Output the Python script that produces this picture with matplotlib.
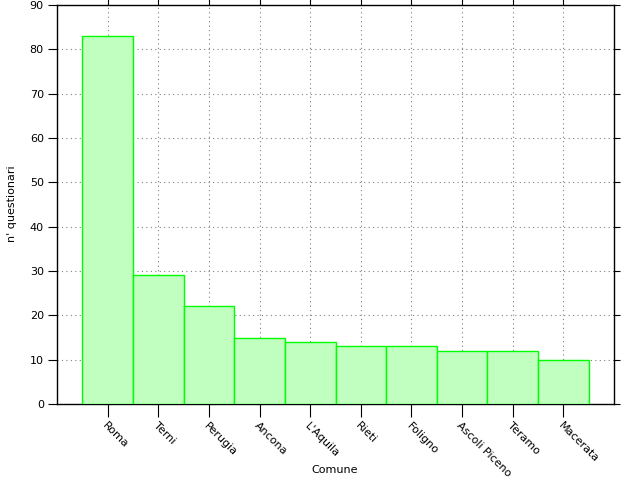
import matplotlib
matplotlib.use("Agg")
import matplotlib.pyplot as plt

comuni = ["Roma", "Terni", "Perugia", "Ancona", "L'Aquila", "Rieti", "Foligno",
          "Ascoli Piceno", "Teramo", "Macerata"]
questionari = [83, 29, 22, 15, 14, 13, 13, 12, 12, 10]

fig = plt.figure(figsize=(6.4, 4.8), dpi=100)
ax = fig.add_axes([57/640, 76/480, (614-57)/640, (404-5)/480])
x = list(range(len(comuni)))
ax.bar(x, questionari, width=1.0, color="#c0ffc0", edgecolor="#00ff00",
       linewidth=1.0, zorder=3)
ax.set_xlim(-1, 10)
ax.set_ylim(0, 90)
ax.set_yticks(range(0, 91, 10))
ax.set_xticks(x)
ax.set_xticklabels(comuni, rotation=-45, ha="left", va="top",
                   rotation_mode="anchor", fontsize=8)
ax.tick_params(axis="y", labelsize=8, direction="out", length=6.5, right=True, pad=3)
ax.tick_params(axis="x", direction="out", length=9, top=True, pad=3)
for t in ax.yaxis.get_major_ticks():
    t.tick2line.set_markersize(4.5)
for t in ax.xaxis.get_major_ticks():
    t.tick2line.set_markersize(4.5)
ax.grid(True, linestyle=(0, (1, 3)), color="#808080", linewidth=0.8, zorder=0)
ax.set_axisbelow(True)
fig.text(335/640, 1 - 470/480, "Comune", fontsize=8, ha="center", va="center")
fig.text(12/640, 1 - 204/480, "n' questionari", fontsize=8, ha="center",
         va="center", rotation=90)
for s in ax.spines.values():
    s.set_linewidth(1.0)
fig.savefig("out.png", dpi=100)
